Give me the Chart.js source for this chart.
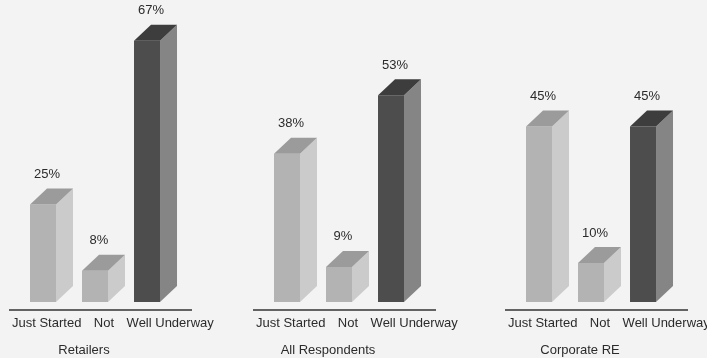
<!DOCTYPE html>
<html>
<head>
<meta charset="utf-8">
<script src="https://cdn.jsdelivr.net/npm/chart.js@4"></script>
<style>
  html, body { margin: 0; padding: 0; background: #f3f3f3; }
  #wrap { position: relative; width: 707px; height: 358px; overflow: hidden; }
  .panel { position: absolute; top: 0; width: 236px; height: 358px; }
</style>
</head>
<body>
<div id="wrap">
  <div class="panel" style="left:0px"><canvas id="c0"></canvas></div>
  <div class="panel" style="left:244px"><canvas id="c1"></canvas></div>
  <div class="panel" style="left:496px"><canvas id="c2"></canvas></div>
</div>
<script>
const groups = ['Retailers', 'All Respondents', 'Corporate RE'];
const categories = ['Just Started', 'Not', 'Well Underway'];
const retailers = [25, 8, 67];
const allRespondents = [38, 9, 53];
const corporateRE = [45, 10, 45];
const groupValues = [retailers, allRespondents, corporateRE];

const frontColors = ['#b3b3b3', '#b3b3b3', '#4d4d4d'];
const sideColors = ['#cbcbcb', '#cbcbcb', '#858585'];
const topColors = ['#9b9b9b', '#9b9b9b', '#3d3d3d'];
const textColor = '#2b2b2b';
const font = '13px "Liberation Sans", Arial, sans-serif';
const DX = 17, DY = 16;

// draws the depth of each bar, the value labels, the baseline and the texts below it
const bar3d = {
    id: 'bar3d',
    afterDatasetsDraw(chart, args, opts) {
        let ctx = chart.ctx;
        let meta = chart.getDatasetMeta(0);
        let points = chart.data.datasets[0].data;
        let area = chart.chartArea;
        ctx.save();
        ctx.font = font;
        meta.data.forEach(function(bar, i) {
            let p = bar.getProps(['x', 'y', 'base', 'width'], true);
            let l = p.x - p.width / 2;
            let r = p.x + p.width / 2;
            ctx.fillStyle = sideColors[i];
            ctx.beginPath();
            ctx.moveTo(r, p.y);
            ctx.lineTo(r + DX, p.y - DY);
            ctx.lineTo(r + DX, p.base - DY);
            ctx.lineTo(r, p.base);
            ctx.closePath();
            ctx.fill();
            ctx.fillStyle = topColors[i];
            ctx.beginPath();
            ctx.moveTo(l, p.y);
            ctx.lineTo(l + DX, p.y - DY);
            ctx.lineTo(r + DX, p.y - DY);
            ctx.lineTo(r, p.y);
            ctx.closePath();
            ctx.fill();
            ctx.fillStyle = textColor;
            ctx.textAlign = 'center';
            ctx.textBaseline = 'middle';
            ctx.fillText(points[i].y + '%', p.x + 4, p.y - DY - 14);
        });

        // baseline
        ctx.strokeStyle = '#333333';
        ctx.lineWidth = 1.5;
        ctx.beginPath();
        ctx.moveTo(area.left, area.bottom);
        ctx.lineTo(area.right, area.bottom);
        ctx.stroke();

        // category labels, written as one line under the group
        ctx.fillStyle = textColor;
        ctx.textAlign = 'left';
        ctx.textBaseline = 'middle';
        let x = area.left + 3;
        for (let label of chart.data.labels) {
            ctx.fillText(label, x, area.bottom + 13);
            x += ctx.measureText(label).width + 12.5;
        }

        // group name
        ctx.textAlign = 'center';
        ctx.fillText(opts.group, area.left + 75, area.bottom + 40);
        ctx.restore();
    }
};

function makeChart(idx) {
    let ctx = document.getElementById('c' + idx).getContext('2d');
    return new Chart(ctx, {
        type: 'bar',
        data: {
            labels: categories,
            datasets: [{
                data: groupValues[idx].map((v, i) => ({ x: i, y: v })),
                backgroundColor: frontColors,
                borderWidth: 0,
                barPercentage: 0.5,
                categoryPercentage: 1
            }]
        },
        options: {
            responsive: true,
            maintainAspectRatio: false,
            animation: false,
            layout: { padding: { left: 9, right: 44, top: 29, bottom: 48 } },
            plugins: {
                legend: { display: false },
                tooltip: { enabled: false },
                bar3d: { group: groups[idx] }
            },
            scales: {
                x: { type: 'linear', display: false, offset: false, grid: { offset: false }, min: -0.654, max: 2.865 },
                y: { display: false, min: -2.05, max: 70 }
            }
        },
        plugins: [bar3d]
    });
}

for (let i = 0; i < groups.length; i++) {
    makeChart(i);
}
</script>
</body>
</html>
